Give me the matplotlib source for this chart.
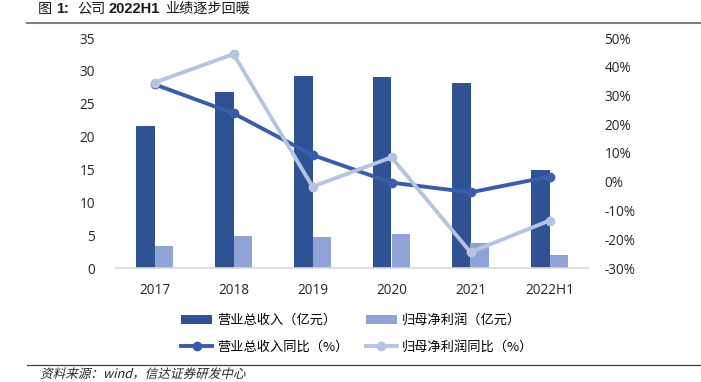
import matplotlib
matplotlib.use("Agg")
import matplotlib.pyplot as plt
from matplotlib.ticker import FuncFormatter, MultipleLocator
from matplotlib.textpath import TextPath
from matplotlib.patches import PathPatch
from matplotlib.font_manager import FontProperties
from matplotlib.transforms import Affine2D, IdentityTransform
import numpy as np

plt.rcParams['font.family'] = ['Open Sans', 'Noto Sans CJK SC', 'DejaVu Sans']

categories = ['2017', '2018', '2019', '2020', '2021', '2022H1']
revenue = [21.6, 26.8, 29.2, 29.1, 28.1, 14.9]          # 营业总收入（亿元）
net_profit = [3.35, 4.8, 4.72, 5.17, 3.85, 1.98]       # 归母净利润（亿元）
revenue_yoy = [33.9, 23.8, 9.3, -0.3, -3.7, 1.8]       # 营业总收入同比（%）
net_yoy = [34.5, 44.4, -1.7, 8.5, -24.5, -13.5]        # 归母净利润同比（%）

labels = ['营业总收入（亿元）', '归母净利润（亿元）', '营业总收入同比（%）', '归母净利润同比（%）']

c_bar1 = '#2F5294'
c_bar2 = '#8FA3D4'
c_line1 = '#3A5CAA'
c_line2 = '#B6C4E2'
txt = '#262626'

W, H = 701, 382
fig = plt.figure(figsize=(W/100, H/100), dpi=100)
ax = fig.add_axes([115/W, 1-268/H, (589-115)/W, (268-38)/H])
ax2 = ax.twinx()

x = np.arange(len(categories))
w = 0.235
b1 = ax.bar(x - w/2, revenue, width=w, color=c_bar1, label=labels[0], zorder=2)
b2 = ax.bar(x + w/2, net_profit, width=w, color=c_bar2, label=labels[1], zorder=2)

l1, = ax2.plot(x, revenue_yoy, color=c_line1, lw=2.8, marker='o', ms=6, label=labels[2])
l2, = ax2.plot(x, net_yoy, color=c_line2, lw=2.8, marker='o', ms=6, label=labels[3])

ax.set_xlim(-0.5, len(categories) - 0.5)
ax.set_ylim(0, 35)
ax.yaxis.set_major_locator(MultipleLocator(5))
ax2.set_ylim(-30, 50)
ax2.yaxis.set_major_locator(MultipleLocator(10))
ax2.yaxis.set_major_formatter(FuncFormatter(lambda v, p: f"{int(round(v))}%"))

ax.set_xticks(x)
ax.set_xticklabels(categories)

for a in (ax, ax2):
    for s in ('top', 'left', 'right', 'bottom'):
        a.spines[s].set_visible(False)
ax.spines['bottom'].set_visible(True)
ax.spines['bottom'].set_color('#D9D9D9')
ax.spines['bottom'].set_linewidth(1.2)

ax.tick_params(axis='y', length=0, pad=14.5, labelsize=9.8, labelcolor=txt)
ax.tick_params(axis='x', length=0, pad=11, labelsize=9.8, labelcolor=txt)
ax2.tick_params(axis='y', length=0, pad=11, labelsize=9.8, labelcolor=txt)

# Title (CJK regular, Latin bold)
cjk = ['Noto Sans CJK SC', 'DejaVu Sans']
lat = ['Liberation Sans', 'DejaVu Sans']
ty = 1 - 9/H
title_parts = [
    (38, '图', cjk, 'normal', 10.2),
    (56, '1:', lat, 'bold', 10.5),
    (77, '公司', cjk, 'normal', 10.2),
    (109, '2022H1', lat, 'bold', 10.5),
    (165, '业绩逐步回暖', cjk, 'normal', 10.2),
]
for px, s, fam, wt, fs in title_parts:
    fig.text(px/W, ty, s, fontsize=fs, fontweight=wt, family=fam, color='#1a1a1a',
             va='center', ha='left')
fig.add_artist(plt.Line2D([27/W, 1], [1-22.5/H, 1-22.5/H], color='#808080', lw=1.5))

# Legend
handles = [b1, l1, b2, l2]
leg_labels = [labels[0], labels[2], labels[1], labels[3]]
fig.legend(handles, leg_labels, loc='upper left', bbox_to_anchor=(181/W, 1-314/H),
           ncol=2, frameon=False, borderpad=0, borderaxespad=0, handlelength=2.35,
           handletextpad=0.38, columnspacing=1.3, labelspacing=1.05,
           prop={'family': cjk, 'size': 9.5})

# Bottom rule and source (slanted like italic)
fig.add_artist(plt.Line2D([27/W, 1], [1-365/H, 1-365/H], color='#404040', lw=0.9))
src = '资料来源：wind，信达证券研发中心'
tp = TextPath((0, 0), src, size=12.6, prop=FontProperties(family='Noto Sans CJK SC'))
tr = Affine2D().skew_deg(14, 0).translate(40, H - 378)
patch = PathPatch(tr.transform_path(tp), facecolor='#262626', edgecolor='none',
                  transform=IdentityTransform())
fig.add_artist(patch)

fig.savefig('out.png', dpi=100)
